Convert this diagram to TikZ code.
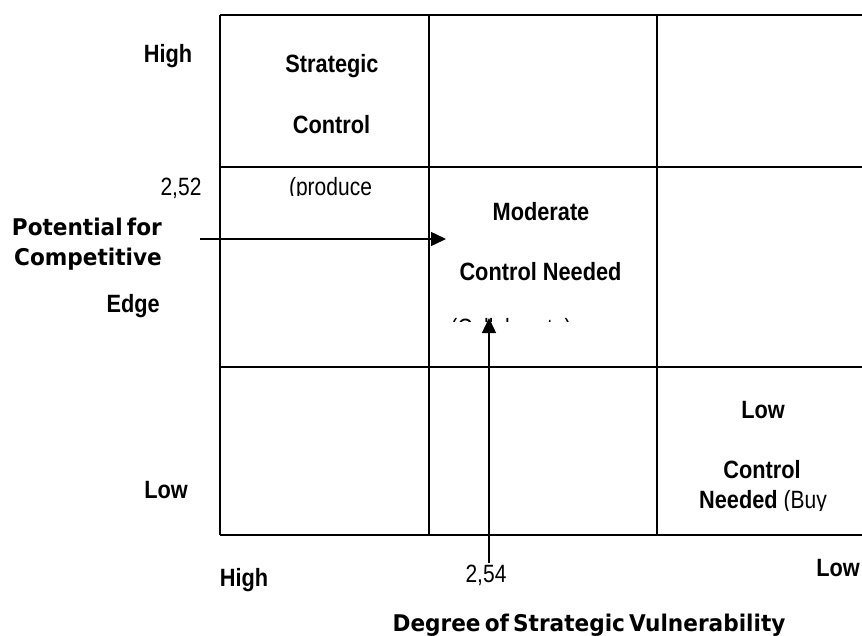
\documentclass[tikz,border=0pt]{standalone}
\usepackage{fontspec}
\setmainfont{Liberation Sans}
\newfontfamily\cellfont[FakeStretch=0.87]{Liberation Sans}
\newfontfamily\numfont[FakeStretch=0.84]{Liberation Sans}
\newfontfamily\axisfont[FakeStretch=0.94,WordSpace=0.55]{DejaVu Sans}
\usetikzlibrary{arrows.meta}
\begin{document}
\begin{tikzpicture}[x=1pt,y=-1pt,
  cell/.style={font=\cellfont\bfseries\fontsize{25}{30}\selectfont, anchor=base, inner sep=0pt},
  num/.style={font=\numfont\fontsize{25}{30}\selectfont, anchor=base, inner sep=0pt},
  axislbl/.style={font=\axisfont\bfseries\fontsize{23}{28}\selectfont, anchor=base, inner sep=0pt},
  gridline/.style={line width=1.3pt, black},
  arr/.style={line width=1.5pt, -{Triangle[length=15pt,width=14pt]}}]
\useasboundingbox (0,0) rectangle (862,635);
\fill[white] (0,0) rectangle (862,635);
% grid
\draw[gridline] (220,15) -- (862,15);
\draw[gridline] (220,167) -- (862,167);
\draw[gridline] (220,367) -- (862,367);
\draw[gridline] (220,535) -- (862,535);
\draw[gridline] (220,15) -- (220,535);
\draw[gridline] (429,15) -- (429,535);
\draw[gridline] (657,15) -- (657,535);
% cell texts
\node[cell] (strat) at (332,72) {Strategic};
\node[cell] (ctrl1) at (331.5,133) {Control};
\begin{scope}
  \clip (225,170) rectangle (425,195.5);
  \node[num] (prod) at (330.5,195) {(produce};
\end{scope}
\node[cell] (mod) at (541,220) {Moderate};
\node[cell] (ctrl2) at (540.5,280) {Control Needed};
\begin{scope}
  \clip (435,317) rectangle (650,321.5);
  \node[num] (frag) at (511,336) {(Collaborate)};
\end{scope}
\node[cell] (low3) at (763,418) {Low};
\node[cell] (ctrl3) at (762,478) {Control};
\begin{scope}
  \clip (662,480) rectangle (860,510);
  \node[cell] (need3) at (763,508) {Needed {\numfont\mdseries (Buy}};
\end{scope}
% axis labels
\node[cell] (hightop) at (168,62) {High};
\node[num] (v252) at (181,195) {2,52};
\node[axislbl, anchor=base east] (pot) at (162,235) {Potential for};
\node[axislbl, anchor=base east] (comp) at (162,265) {Competitive};
\node[cell, anchor=base east] (edge) at (160,312) {Edge};
\node[cell] (lowleft) at (166,498) {Low};
\node[cell] (highbot) at (244,586) {High};
\node[num] (v254) at (486,582) {2,54};
\node[cell] (lowright) at (838,576) {Low};
\node[axislbl] (deg) at (589,631) {Degree of Strategic Vulnerability};
% arrows
\coordinate (hstart) at (200,239);
\coordinate (hend) at (446,239);
\coordinate (vstart) at (489,563);
\coordinate (vend) at (489,318);
\draw[arr] (hstart) -- (hend);
\draw[arr] (vstart) -- (vend);
\end{tikzpicture}
\end{document}
